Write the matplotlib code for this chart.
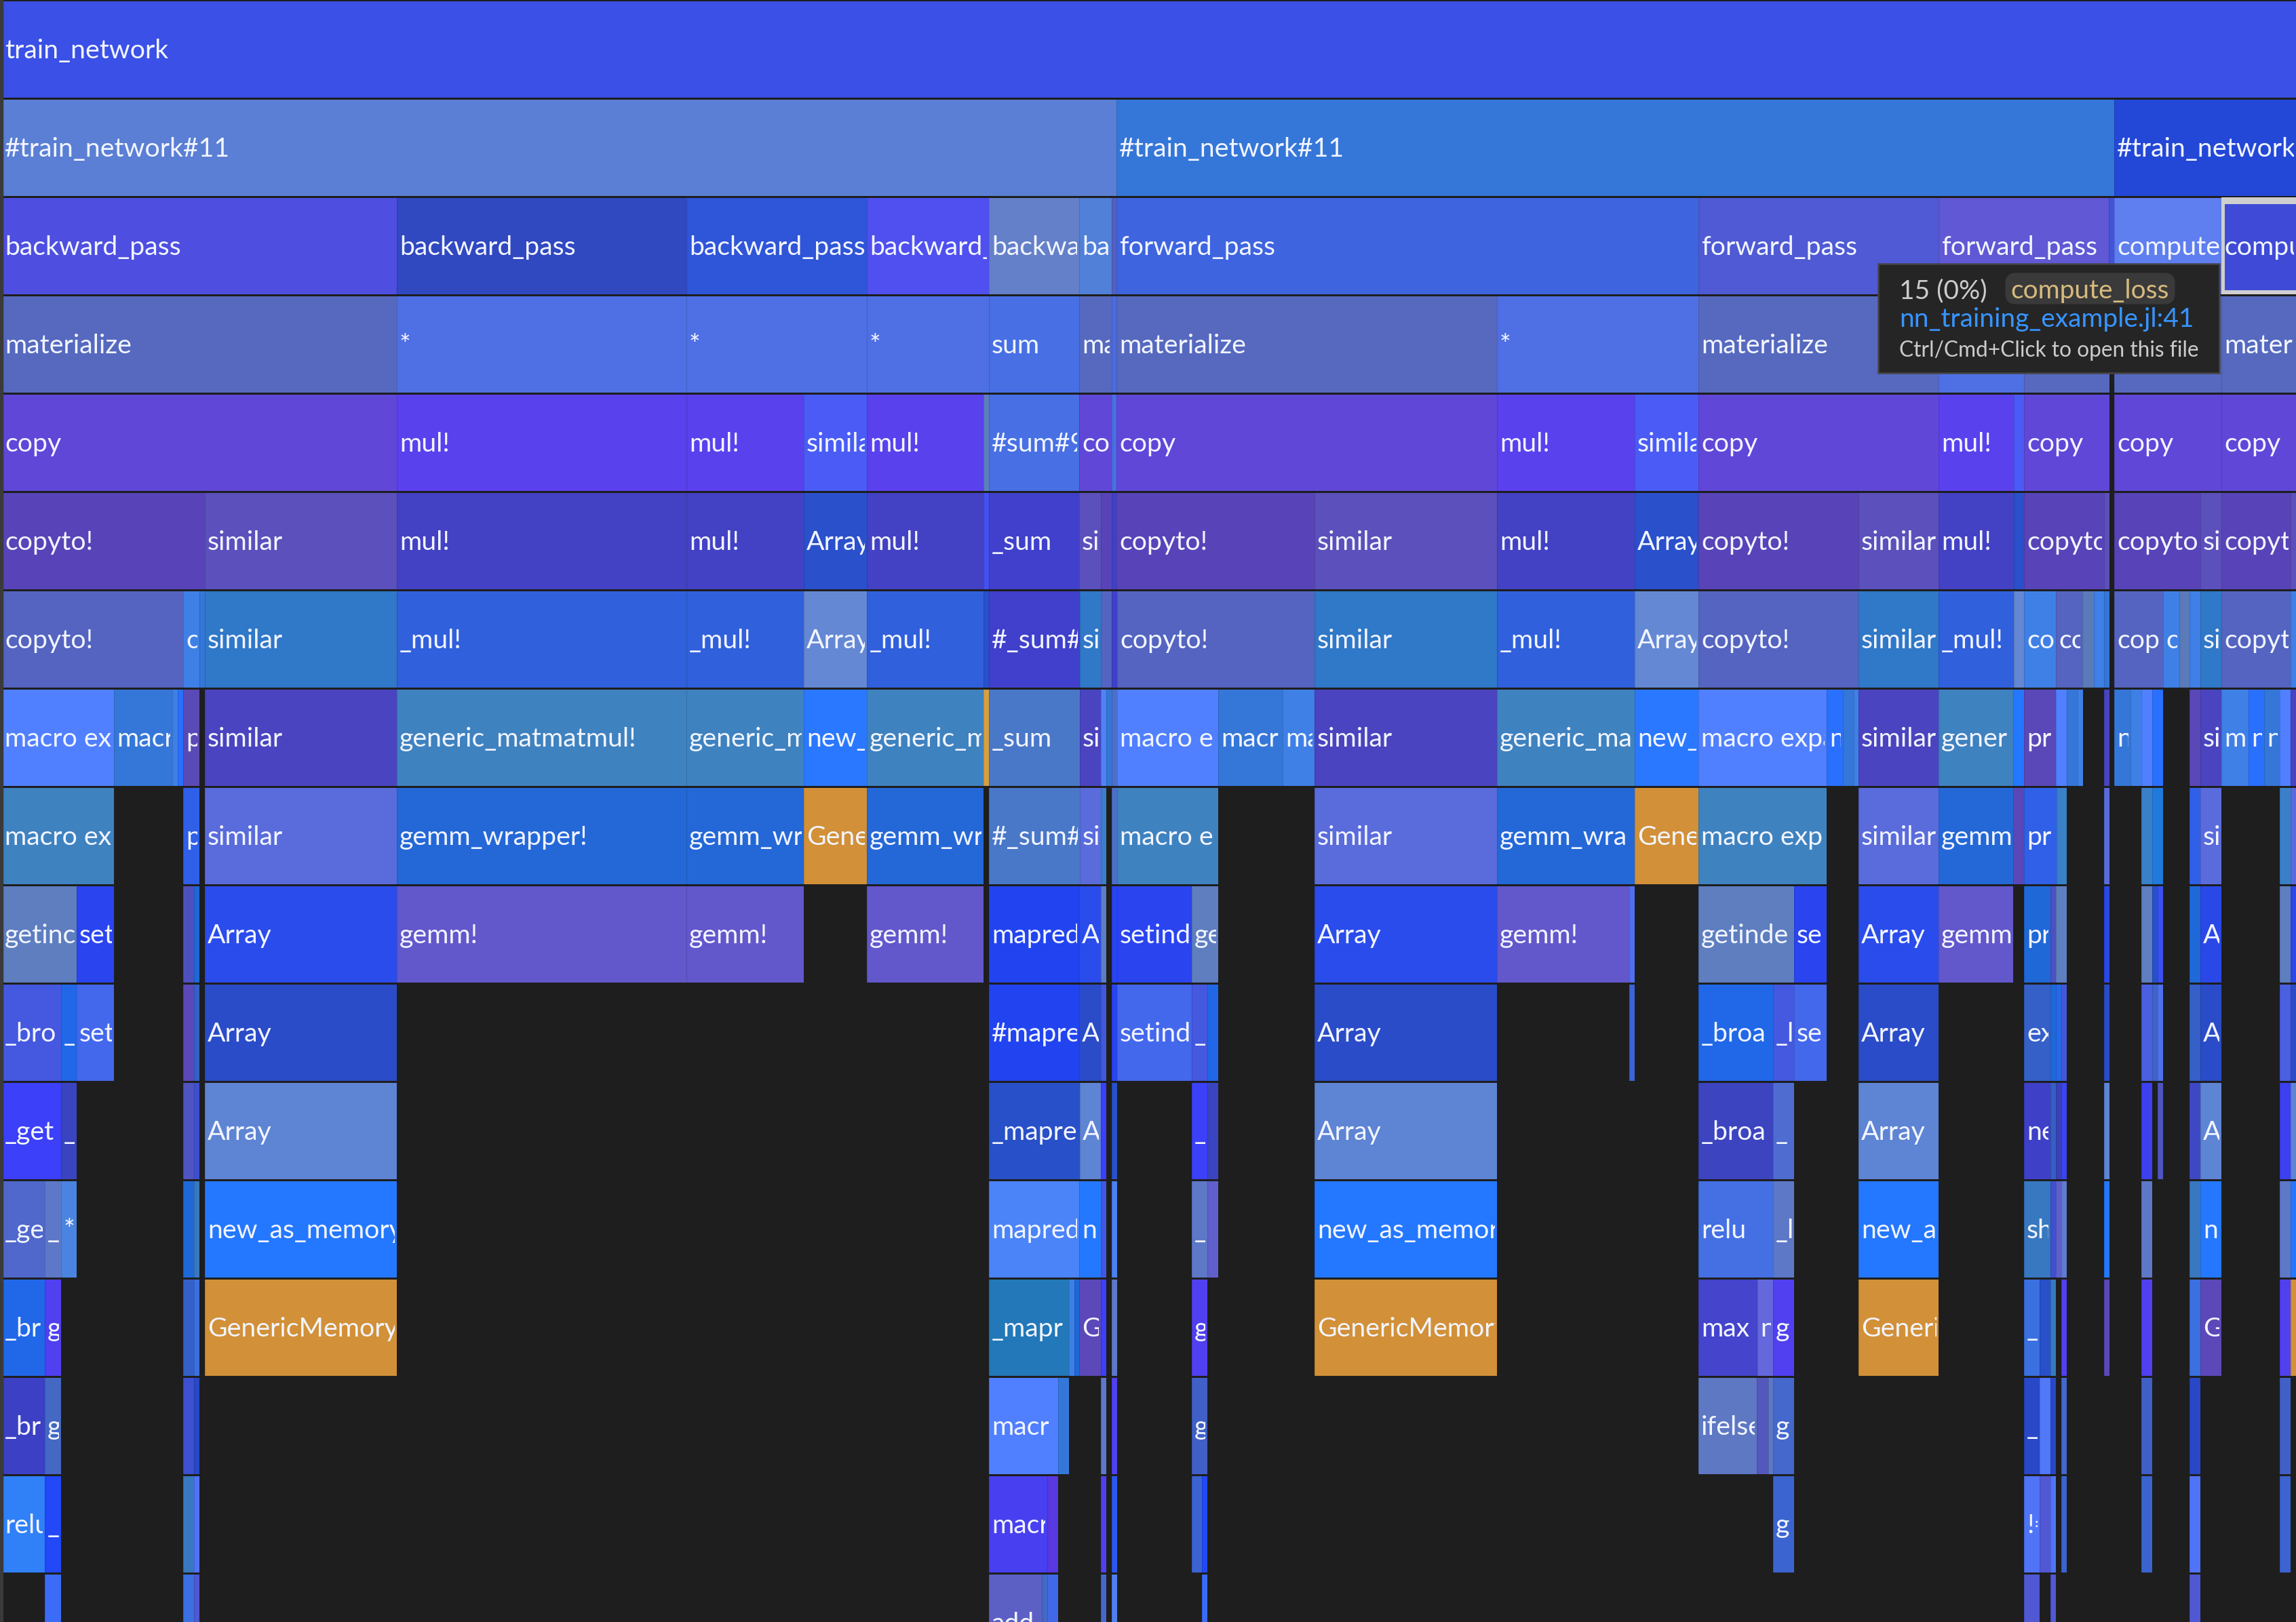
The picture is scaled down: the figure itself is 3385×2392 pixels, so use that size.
import numpy as np
import matplotlib
matplotlib.use("Agg")
import matplotlib.pyplot as plt
from matplotlib.patches import Rectangle, FancyBboxPatch

# flame graph frames, x is in samples, one list set per stack depth
# labels are cut the way the frame cuts them on screen
row0_start = [5]
row0_end = [3385]
row0_label = ["train_network"]
row0_color = ["#3a50e6"]

row1_start = [5, 1646, 3117]
row1_end = [1646, 3117, 3385]
row1_label = ["#train_network#11", "#train_network#11", "#train_network"]
row1_color = ["#5a7fd4", "#3577d8", "#2348d8"]

row2_start = [5, 585, 1012, 1278, 1458, 1591, 1639, 1646, 2504, 2858, 3109, 3117, 3275]
row2_end = [585, 1012, 1278, 1458, 1591, 1639, 1646, 2504, 2858, 3109, 3117, 3275, 3385]
row2_label = ["backward_pass", "backward_pass", "backward_pass", "backward_", "backwa", "ba", "",
              "forward_pass", "forward_pass", "forward_pass", "", "compute", "compu"]
row2_color = ["#4e4fe0", "#3048c0", "#2f55d8", "#5050f0", "#6480c8", "#5080d8", "#5560c4",
              "#3e64e0", "#4f5ad4", "#6058d4", "#4454d8", "#5f7ef0", "#3f4bd6"]

row3_start = [5, 585, 1012, 1278, 1458, 1591, 1639, 1646, 2207, 2504, 2858, 2984, 3117, 3275]
row3_end = [585, 1012, 1278, 1458, 1591, 1639, 1646, 2207, 2504, 2858, 2984, 3110, 3275, 3385]
row3_label = ["materialize", "*", "*", "*", "sum", "ma", "", "materialize", "*", "materialize", "",
              "", "", "materi"]
row3_color = ["#5669bf", "#4f70e4", "#4f70e4", "#4f70e4", "#4870e4", "#5669bf", "#4a6ce0", "#5669bf", "#4f70e4",
              "#5669bf", "#4f70e4", "#5669bf", "#5669bf", "#5669bf"]

row4_start = [5, 585, 1012, 1185, 1278, 1450, 1458, 1591, 1639, 1646, 2207, 2410, 2504, 2858, 2969, 2984, 3117, 3275]
row4_end = [585, 1012, 1185, 1278, 1450, 1458, 1591, 1639, 1646, 2207, 2410, 2504, 2858, 2969, 2984, 3110, 3275, 3385]
row4_label = ["copy", "mul!", "mul!", "simila", "mul!", "", "#sum#9", "co", "", "copy", "mul!", "simila", "copy",
              "mul!", "", "copy", "copy", "copy"]
row4_color = ["#6047d8", "#5a41ee", "#5a41ee", "#4a5cf5", "#5a41ee", "#5e7ec0", "#4870e4", "#6047d8", "#4870e4",
              "#6047d8", "#5a41ee", "#4a5cf5", "#6047d8", "#5a41ee", "#4a5cf5", "#6047d8", "#6047d8", "#6047d8"]

row5_start = [5, 302, 585, 1012, 1185, 1278, 1450, 1458, 1591, 1623, 1639, 1646, 1938, 2207, 2410, 2504, 2740, 2858,
              2969, 2984, 3102, 3117, 3244, 3275, 3377]
row5_end = [302, 585, 1012, 1185, 1278, 1450, 1458, 1591, 1623, 1639, 1646, 1938, 2207, 2410, 2504, 2740, 2858, 2969,
            2984, 3102, 3110, 3244, 3275, 3377, 3385]
row5_label = ["copyto!", "similar", "mul!", "mul!", "Array", "mul!", "", "_sum", "si", "", "", "copyto!", "similar",
              "mul!", "Array", "copyto!", "similar", "mul!", "", "copyto", "", "copyto", "si", "copyt", ""]
row5_color = ["#5844b8", "#5c50bc", "#4342c4", "#4342c4", "#2a50cc", "#4342c4", "#4450f0", "#4040cc", "#5c50bc",
              "#5844b8", "#4040cc", "#5844b8", "#5c50bc", "#4342c4", "#2a50cc", "#5844b8", "#5c50bc", "#4342c4",
              "#2a50cc", "#5844b8", "#5c50bc", "#5844b8", "#5c50bc", "#5844b8", "#5c50bc"]

row6_start = [5, 270, 294, 302, 585, 1012, 1185, 1278, 1450, 1458, 1592, 1623, 1639, 1647, 1938, 2207, 2410, 2504, 2740,
              2858, 2969, 2984, 3031, 3070, 3087, 3102, 3117, 3189, 3213, 3228, 3244, 3275, 3377]
row6_end = [270, 294, 302, 585, 1012, 1185, 1278, 1450, 1458, 1592, 1623, 1639, 1647, 1938, 2207, 2410, 2504, 2740, 2858,
            2969, 2984, 3031, 3070, 3087, 3102, 3110, 3189, 3213, 3228, 3244, 3275, 3377, 3385]
row6_label = ["copyto!", "c", "", "similar", "_mul!", "_mul!", "Array", "_mul!", "", "#_sum#", "si", "", "",
              "copyto!", "similar", "_mul!", "Array", "copyto!", "similar", "_mul!", "", "co", "cc", "", "", "",
              "cop", "c", "", "", "si", "copyt", ""]
row6_color = ["#5464c0", "#3f80e6", "#3577d8", "#3078c8", "#3060dc", "#3060dc", "#6488d4", "#3060dc", "#2a50cc",
              "#4040cc", "#3078c8", "#5464c0", "#4040cc", "#5464c0", "#3078c8", "#3060dc", "#6488d4", "#5464c0",
              "#3078c8", "#3060dc", "#6488d4", "#3f80e6", "#5464c0", "#5a7ab8", "#3f80e6", "#3577d8", "#5464c0",
              "#3f80e6", "#5a7ab8", "#3f80e6", "#3078c8", "#5464c0", "#3f80e6"]

row7_start = [5, 168, 254, 262, 270, 302, 585, 1012, 1185, 1278, 1450, 1458, 1592, 1623, 1631, 1639, 1647, 1796, 1891,
              1938, 2207, 2410, 2504, 2693, 2717, 2733, 2740, 2858, 2968, 2984, 3031, 3047, 3063, 3102, 3117, 3141, 3157,
              3173, 3228, 3244, 3275, 3315, 3338, 3361, 3377]
row7_end = [168, 254, 262, 270, 294, 585, 1012, 1185, 1278, 1450, 1458, 1592, 1623, 1631, 1639, 1647, 1796, 1891, 1938,
            2207, 2410, 2504, 2693, 2717, 2733, 2740, 2858, 2968, 2984, 3031, 3047, 3063, 3071, 3110, 3141, 3157, 3173,
            3189, 3244, 3275, 3315, 3338, 3361, 3377, 3385]
row7_label = ["macro ex", "macr", "", "", "p", "similar", "generic_matmatmul!",
              "generic_m", "new_", "generic_m", "", "_sum", "si", "", "", "",
              "macro e", "macr", "ma", "similar", "generic_ma", "new_",
              "macro expa", "n", "", "", "similar", "gener", "", "pr", "", "", "", "",
              "n", "", "", "", "", "si", "m", "n", "n", "", ""]
row7_color = ["#5080ff", "#3577d8", "#3f80e6", "#2a70ff", "#5a4ab5", "#4a44c0", "#3f82c0", "#3f82c0", "#2a78ff", "#3f82c0",
              "#d6a040", "#4a78c8", "#4a44c0", "#4f83f5", "#3577d8", "#4a70c8", "#5080ff", "#3577d8", "#3f80e6", "#4a44c0",
              "#3f82c0", "#2a78ff", "#5080ff", "#2a70ff", "#3577d8", "#3f80e6", "#4a44c0", "#3f82c0", "#2478ff", "#5a48b8",
              "#5080ff", "#3577d8", "#3f80e6", "#4a44c0", "#3577d8", "#3f80e6", "#5080ff", "#2a70ff", "#5a48b8", "#4a44c0",
              "#3f80e6", "#2a70ff", "#3577d8", "#5080ff", "#4a44c0"]

row8_start = [5, 270, 302, 585, 1012, 1185, 1278, 1458, 1592, 1623, 1639, 1647, 1938, 2207, 2410, 2504, 2740, 2858, 2968,
              2984, 3032, 3102, 3157, 3173, 3228, 3244, 3361, 3377]
row8_end = [168, 294, 585, 1012, 1185, 1278, 1450, 1592, 1623, 1631, 1647, 1796, 2207, 2410, 2504, 2693, 2858, 2968, 2984,
            3032, 3047, 3110, 3173, 3189, 3244, 3275, 3377, 3385]
row8_label = ["macro ex", "p", "similar", "gemm_wrapper!", "gemm_wr", "Gene", "gemm_wr",
              "#_sum#", "si", "", "", "macro e", "similar", "gemm_wra", "Gene",
              "macro exp", "similar", "gemm", "", "pr", "", "", "", "", "", "si", "", ""]
row8_color = ["#3f82c0", "#3060e8", "#5a6cdc", "#2468d8", "#2468d8", "#d29038", "#2468d8", "#4a78c8", "#5a6cdc", "#3a80c8",
              "#4a70c8", "#3f82c0", "#5a6cdc", "#2468d8", "#d29038", "#3f82c0", "#5a6cdc", "#2468d8", "#5a48b8", "#3060e8",
              "#3a80c8", "#5a6cdc", "#3a80c8", "#1f7adc", "#3060e8", "#5a6cdc", "#3a80c8", "#5a6cdc"]

row9_start = [5, 113, 270, 286, 302, 585, 1012, 1278, 1458, 1591, 1623, 1639, 1647, 1757, 1938, 2207, 2402, 2504, 2645,
              2740, 2858, 2984, 3023, 3031, 3102, 3157, 3173, 3181, 3228, 3244, 3361, 3377]
row9_end = [113, 168, 286, 294, 585, 1012, 1185, 1450, 1591, 1623, 1631, 1647, 1757, 1796, 2207, 2402, 2410, 2645, 2693,
            2858, 2968, 3023, 3031, 3047, 3110, 3173, 3181, 3189, 3244, 3275, 3377, 3385]
row9_label = ["getinc", "set", "", "", "Array", "gemm!", "gemm!", "gemm!", "mapred", "A", "", "", "setind",
              "ge", "Array", "gemm!", "", "getinde", "se", "Array", "gemm", "pr", "", "", "", "", "", "",
              "", "A", "", ""]
row9_color = ["#5e7ec0", "#2a44f0", "#4f50c0", "#1f68d8", "#2a4cec", "#6357cc", "#6357cc", "#6357cc", "#2244f0", "#2a4cec",
              "#5e7ec0", "#2a44f0", "#2a44f0", "#5e7ec0", "#2a4cec", "#6357cc", "#5070f0", "#5e7ec0", "#2a44f0", "#2a4cec",
              "#6357cc", "#1f68d8", "#4f50c0", "#5e7ec0", "#2a48e8", "#5e7ec0", "#2850c8", "#3a50f0", "#1f68d8", "#2a48e8",
              "#5e7ec0", "#2a48e8"]

row10_start = [5, 90, 113, 270, 286, 302, 1458, 1591, 1623, 1639, 1647, 1757, 1780, 1938, 2402, 2504, 2614, 2645, 2740,
               2984, 3023, 3031, 3039, 3102, 3157, 3173, 3181, 3228, 3244, 3361, 3377]
row10_end = [90, 113, 168, 286, 294, 585, 1591, 1623, 1631, 1647, 1757, 1780, 1796, 2207, 2410, 2614, 2645, 2693, 2858,
             3023, 3031, 3039, 3047, 3110, 3173, 3181, 3189, 3244, 3275, 3377, 3385]
row10_label = ["_bro", "_", "set", "", "", "Array", "#mapre", "A", "", "", "setind", "_", "", "Array",
               "", "_broa", "_l", "se", "Array", "ex", "", "", "", "", "", "", "", "", "A", "", ""]
row10_color = ["#4558e0", "#2068e8", "#4468ec", "#5c48b8", "#3560c8", "#2a4cc8", "#2244f0", "#2a4cc8", "#4358d8", "#2a44f0",
               "#4468ec", "#4558e0", "#2068e8", "#2a4cc8", "#3c64d8", "#2068e8", "#4558e0", "#4468ec", "#2a4cc8", "#3560c8",
               "#1f68d8", "#2468e8", "#4358d8", "#2a4cc8", "#4a60e0", "#3f64c8", "#4f70ec", "#3560c8", "#2a4cc8", "#4a60e0",
               "#2a4cc8"]

row11_start = [5, 90, 270, 286, 302, 1458, 1592, 1623, 1639, 1757, 1780, 1938, 2504, 2614, 2740, 2984, 3023, 3031, 3039,
               3102, 3157, 3181, 3228, 3244, 3361, 3377]
row11_end = [90, 113, 286, 294, 585, 1592, 1623, 1631, 1647, 1780, 1796, 2207, 2614, 2645, 2858, 3023, 3031, 3039, 3047,
             3110, 3173, 3189, 3244, 3275, 3377, 3385]
row11_label = ["_get", "_", "", "", "Array", "_mapre", "A", "", "", "_", "", "Array", "_broa", "_",
               "Array", "ne", "", "", "", "", "", "", "", "A", "", ""]
row11_color = ["#3c40f8", "#3a44c0", "#4f54c0", "#3c50d0", "#5e84d4", "#2850c8", "#5e84d4", "#3c40f8", "#2850c8", "#3c40f8",
               "#3a44c0", "#5e84d4", "#3c44c0", "#4f6cd0", "#5e84d4", "#3f40c8", "#3560c0", "#3a40b8", "#3a44f0", "#5e84d4",
               "#3c40f0", "#4f54c0", "#3f48c4", "#5e84d4", "#3c40f0", "#5e84d4"]

row12_start = [5, 66, 90, 270, 286, 302, 1458, 1591, 1623, 1639, 1757, 1780, 1938, 2504, 2614, 2740, 2984, 3023, 3031, 3039,
               3102, 3157, 3228, 3244, 3361, 3377]
row12_end = [66, 90, 113, 286, 294, 585, 1591, 1623, 1631, 1647, 1780, 1796, 2207, 2614, 2645, 2858, 3023, 3031, 3039, 3047,
             3110, 3173, 3244, 3275, 3377, 3385]
row12_label = ["_ge", "_", "*", "", "", "new_as_memory", "mapred", "n", "", "", "_", "", "new_as_memor",
               "relu", "_l", "new_a", "sh", "", "", "", "", "", "", "n", "", ""]
row12_color = ["#5068cc", "#5e78c8", "#4a84e0", "#1f68d8", "#3878c0", "#2478ff", "#4a84f8", "#2478ff", "#4358e0", "#4a80f0",
               "#5e78c8", "#6060cc", "#2478ff", "#4470e4", "#5e78c8", "#2478ff", "#3878c0", "#3f50d0", "#6060cc", "#5e7cd0",
               "#2478ff", "#5e78c8", "#3878c0", "#2478ff", "#5e78c8", "#2478ff"]

row13_start = [5, 66, 270, 286, 302, 1458, 1576, 1584, 1591, 1623, 1639, 1757, 1938, 2504, 2591, 2614, 2740, 2984, 3007,
               3023, 3039, 3102, 3157, 3228, 3244, 3361, 3377]
row13_end = [66, 90, 286, 294, 585, 1576, 1584, 1591, 1623, 1631, 1647, 1780, 2207, 2591, 2614, 2645, 2858, 3007, 3023,
             3031, 3047, 3110, 3173, 3244, 3275, 3377, 3385]
row13_label = ["_br", "g", "", "", "GenericMemory", "_mapr", "", "", "G", "", "", "g",
               "GenericMemory", "max", "n", "g", "Generi", "_", "", "", "", "", "", "", "G", "", ""]
row13_color = ["#2068e8", "#5040f0", "#3560c8", "#3a70e0", "#d29038", "#2278b8", "#3f80e6", "#1f68d8", "#5c48b8", "#3c40f8",
               "#5e78c8", "#5040f0", "#d29038", "#4444cc", "#6468dc", "#5040f0", "#d29038", "#3a70e0", "#2850c8", "#3878c0",
               "#5040f0", "#5c48b8", "#5040f0", "#3a70e0", "#5c48b8", "#5040f0", "#d29038"]

row14_start = [5, 66, 270, 286, 1458, 1560, 1623, 1639, 1757, 2504, 2590, 2607, 2614, 2984, 3007, 3023, 3039, 3157, 3228, 3361]
row14_end = [66, 90, 286, 294, 1560, 1576, 1631, 1647, 1780, 2590, 2607, 2614, 2645, 3007, 3023, 3031, 3047, 3173, 3244, 3377]
row14_label = ["_br", "g", "", "", "macr", "", "", "", "g", "ifelse", "", "", "g", "_",
               "", "", "", "", "", ""]
row14_color = ["#3c40c4", "#4468c4", "#3c50d0", "#2848c8", "#5080ff", "#3577d8", "#5e78c8", "#5040f0", "#4060c8", "#5e78c4",
               "#5458bc", "#5e78c4", "#4468cc", "#2848c8", "#5078f8", "#2848c8", "#4468cc", "#4060c8", "#2848c8", "#4060c8"]

row15_start = [5, 66, 270, 286, 1458, 1544, 1623, 1639, 1757, 1772, 2614, 2984, 3007, 3023, 3039, 3157, 3228, 3361]
row15_end = [66, 90, 286, 294, 1544, 1560, 1631, 1647, 1772, 1780, 2645, 3007, 3023, 3031, 3047, 3173, 3244, 3377]
row15_label = ["relu", "_", "", "", "macr", "", "", "", "", "", "g", "!=", "", "", "", "", "", ""]
row15_color = ["#3080f8", "#2248f8", "#3878c0", "#5074f8", "#4840f0", "#5838e0", "#5040f0", "#2a58f0", "#3c64d0", "#2248f8",
               "#3c64d0", "#5074f8", "#5258d4", "#5074f8", "#3c64d0", "#3c64d0", "#5074f8", "#3c64d0"]

row16_start = [66, 270, 286, 1458, 1536, 1544, 1623, 1639, 1772, 2984, 3023, 3228]
row16_end = [90, 286, 294, 1536, 1544, 1560, 1631, 1647, 1780, 3007, 3031, 3244]
row16_label = ["", "", "", "add", "", "", "", "", "", "_", "", ""]
row16_color = ["#3a6cf8", "#3a70e0", "#5058d4", "#5c60c4", "#4468c4", "#4068e8", "#4468cc", "#5080f0", "#3a6cf8", "#5058d4",
               "#5058d4", "#5058d4"]

# tooltip of the hovered frame
tip_count = "15 (0%)"
tip_name = "compute_loss"
tip_file = "nn_training_example.jl:41"
tip_hint = "Ctrl/Cmd+Click to open this file"

rows = [
    (row0_start, row0_end, row0_label, row0_color),
    (row1_start, row1_end, row1_label, row1_color),
    (row2_start, row2_end, row2_label, row2_color),
    (row3_start, row3_end, row3_label, row3_color),
    (row4_start, row4_end, row4_label, row4_color),
    (row5_start, row5_end, row5_label, row5_color),
    (row6_start, row6_end, row6_label, row6_color),
    (row7_start, row7_end, row7_label, row7_color),
    (row8_start, row8_end, row8_label, row8_color),
    (row9_start, row9_end, row9_label, row9_color),
    (row10_start, row10_end, row10_label, row10_color),
    (row11_start, row11_end, row11_label, row11_color),
    (row12_start, row12_end, row12_label, row12_color),
    (row13_start, row13_end, row13_label, row13_color),
    (row14_start, row14_end, row14_label, row14_color),
    (row15_start, row15_end, row15_label, row15_color),
    (row16_start, row16_end, row16_label, row16_color),
]

plt.rcParams['font.family'] = ['Lato', 'DejaVu Sans']
BG = "#1e1e1e"
W, H = 3385, 2392
ROW_PX = 145.0
LABEL_SIZE = 28.3

fig = plt.figure(figsize=(W / 100, H / 100), dpi=100, facecolor=BG)
ax = fig.add_axes([0, 0, 1, 1], facecolor=BG)
ax.set_xlim(0, W)
ax.set_ylim(H / ROW_PX, 0)
ax.axis("off")

for depth, (start, end, label, color) in enumerate(rows):
    assert len(start) == len(end) == len(label) == len(color), depth
    start = np.array(start, dtype=float)
    width = np.array(end, dtype=float) - start
    y = depth + 1.5 / ROW_PX
    ax.barh(np.full(len(start), y), width, left=start, height=1 - 2.5 / ROW_PX,
            align="edge", color=color, linewidth=0)
    # thin darker seam on the left of each frame
    ax.vlines(start, y, y + 1 - 2.5 / ROW_PX, color="black", alpha=0.13, linewidth=0.8)
    for x0, w, name in zip(start, width, label):
        if not name:
            continue
        pad = 2 if x0 == 5 else 4
        t = ax.text(x0 + pad, depth + 86 / ROW_PX, name, color="#f2f5ff", fontsize=LABEL_SIZE,
                    va="baseline", ha="left", clip_on=True)
        t.set_clip_path(Rectangle((x0, depth), w - 3, 1, transform=ax.transData))

# overlay in plain pixels for the window chrome and the tooltip
ov = fig.add_axes([0, 0, 1, 1], facecolor="none")
ov.set_xlim(0, W)
ov.set_ylim(H, 0)
ov.axis("off")

ov.add_patch(Rectangle((0, 0), 5, H, facecolor="#3a3a3a", edgecolor="none"))
# selection border around the hovered frame, heavier on top
for bx, by, bw, bh in [(3275, 291, 110, 10), (3275, 291, 5.5, 143), (3275, 428, 110, 6)]:
    ov.add_patch(Rectangle((bx, by), bw, bh, facecolor="#cfcfcf", edgecolor="none"))

ov.add_patch(Rectangle((2769, 389), 503, 161, facecolor="#252526", edgecolor="#454545", linewidth=1.8))
ov.add_patch(FancyBboxPatch((2962, 408), 239, 35, boxstyle="round,pad=0,rounding_size=9",
                            facecolor="#3a3a3a", edgecolor="#3a3a3a", linewidth=8))
ov.text(2800, 440, tip_count, color="#cccccc", fontsize=28, va="baseline")
ov.text(2964, 440, tip_name, color="#d7ba7d", fontsize=28, va="baseline")
ov.text(2800, 482, tip_file, color="#3794ff", fontsize=28, va="baseline")
ov.text(2800, 526, tip_hint, color="#cccccc", fontsize=22.8, va="baseline")

fig.savefig("out.png", dpi=100, facecolor=BG)
